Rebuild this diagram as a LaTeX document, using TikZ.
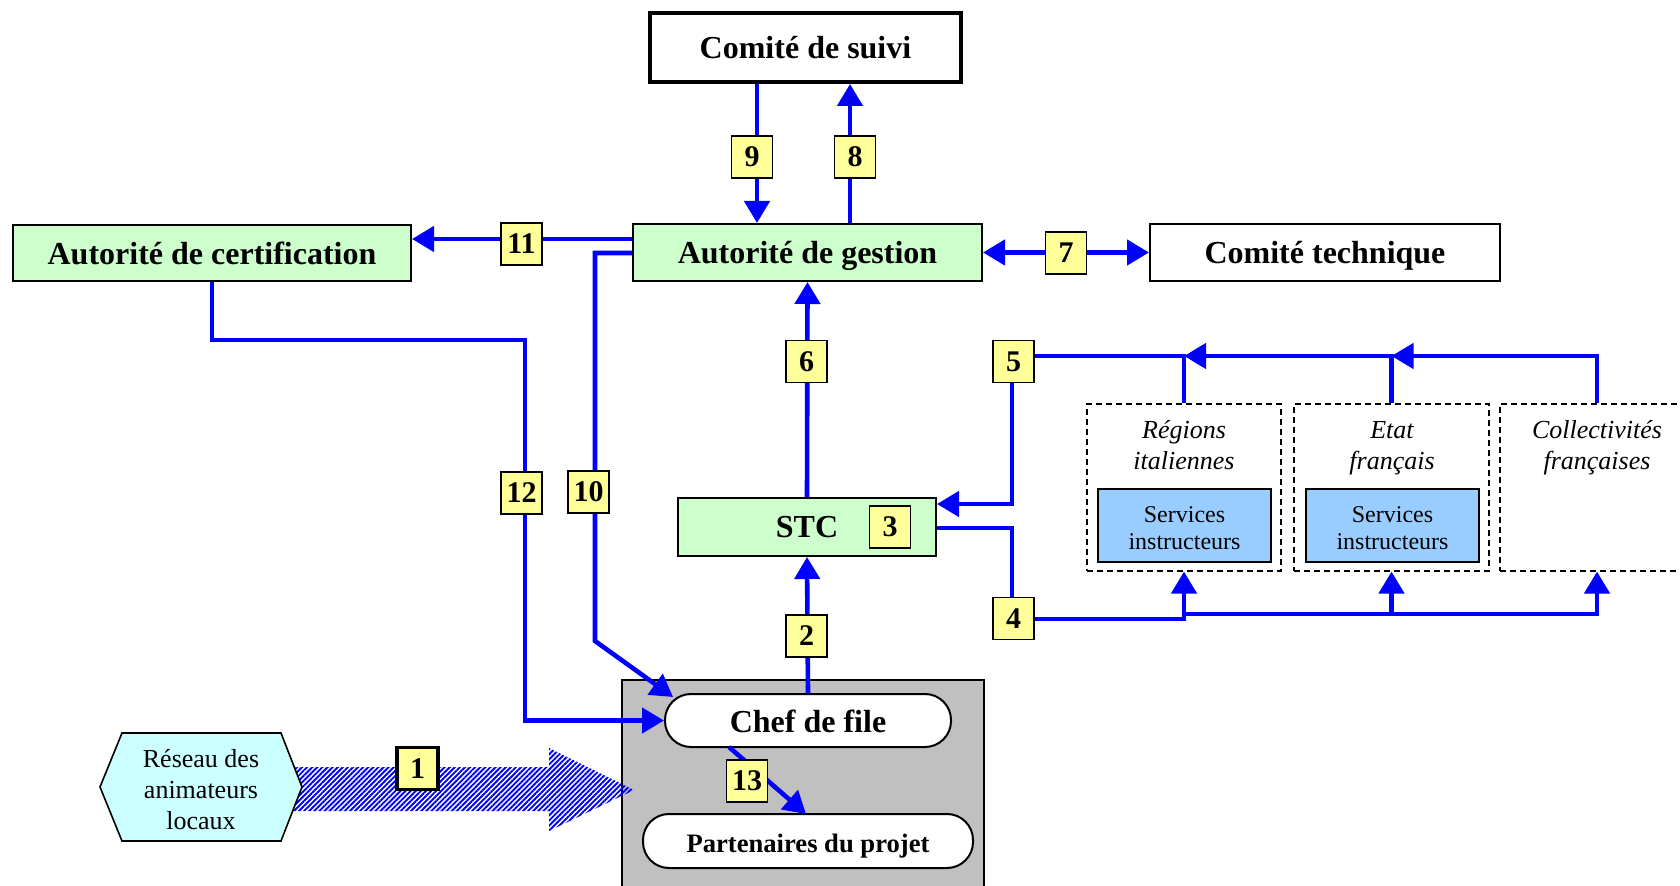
\documentclass[tikz,border=0pt]{standalone}
\usepackage{fontspec}
\setmainfont{Liberation Serif}
\usetikzlibrary{arrows.meta,patterns.meta,calc}
\definecolor{lgreen}{HTML}{CCFFCC}
\definecolor{lblue}{HTML}{99CCFF}
\definecolor{lcyan}{HTML}{CCFFFF}
\definecolor{lyellow}{HTML}{FFFF99}
\definecolor{greyfill}{HTML}{C0C0C0}
\definecolor{linkblue}{HTML}{0000FF}
\begin{document}
\begin{tikzpicture}[x=0.5pt,y=-0.5pt,
  conn/.style={draw=linkblue,line width=2.3pt},
  arr/.style={conn,-{Triangle[length=11pt,width=12.5pt]}},
  darr/.style={conn,{Triangle[length=11pt,width=12.5pt]}-{Triangle[length=11pt,width=12.5pt]}},
  mainbox/.style={draw,line width=1pt,inner sep=0pt,text depth=0pt,font=\bfseries\fontsize{16}{18}\selectfont},
  numbox/.style={draw,line width=0.8pt,fill=lyellow,minimum width=20.5pt,minimum height=21pt,inner sep=0pt,font=\bfseries\fontsize{15}{15}\selectfont},
  dbox/.style={draw,dash pattern=on 3pt off 2pt,line width=0.6pt,inner sep=0pt},
  itlabel/.style={align=center,text depth=0pt,font=\itshape\fontsize{13}{15.5}\selectfont},
  svbox/.style={draw,fill=lblue,line width=1pt,minimum width=86.5pt,minimum height=36.5pt,inner sep=0pt},
  svtext/.style={align=center,inner sep=0pt,font=\fontsize{12}{13.5}\selectfont},
  pill/.style={draw,fill=white,rounded corners=13pt,line width=1pt,inner sep=0pt,text depth=0pt},
]
\useasboundingbox (0,0) rectangle (1680,886);
\clip (0,0) rectangle (1680,886);
\fill[white] (0,0) rectangle (1680,886);

% grey zone
\node[draw,fill=greyfill,line width=0.8pt,minimum width=181pt,minimum height=105pt,inner sep=0pt] (zone) at (803,785) {};

% main boxes
\node[mainbox,line width=2pt,fill=white,minimum width=155.5pt,minimum height=34.5pt] (cs) at (805.5,47.5) {Comité de suivi};
\node[mainbox,fill=lgreen,minimum width=174.5pt,minimum height=28.5pt] (ag) at (807.5,252.5) {Autorité de gestion};
\node[mainbox,fill=lgreen,minimum width=199pt,minimum height=28pt] (ac) at (212,253) {Autorité de certification};
\node[mainbox,fill=white,minimum width=175pt,minimum height=28.5pt] (ct) at (1325,252.5) {Comité technique};
\node[mainbox,fill=lgreen,minimum width=129pt,minimum height=29pt] (stc) at (807,527) {STC};
\node[pill,minimum width=143pt,minimum height=26.5pt,font=\bfseries\fontsize{16}{18}\selectfont] (chef) at (808,720.5) {\raisebox{-1pt}{Chef de file}};
\node[pill,minimum width=165pt,minimum height=27pt,font=\bfseries\fontsize{13.3}{15}\selectfont] (part) at (808,841) {\raisebox{-2pt}{Partenaires du projet}};

% hatched arrow 1
\fill[pattern={Lines[angle=45,distance=1.8pt,line width=0.95pt]},pattern color=linkblue]
  (285,767) -- (549,767) -- (549,748) -- (634,790) -- (549,831) -- (549,811) -- (285,811) -- cycle;

% hexagon
\filldraw[fill=lcyan,line width=0.8pt] (100,787) -- (122,733) -- (281,733) -- (302,787) -- (281,841) -- (122,841) -- cycle;
\node[align=center,font=\fontsize{13}{15.5}\selectfont] (res) at (201,790) {Réseau des\\animateurs\\locaux};

% dashed groups
\node[dbox,minimum width=97pt,minimum height=83.5pt] (reg) at (1184,487.5) {};
\node[dbox,minimum width=97.5pt,minimum height=83.5pt] (etat) at (1391.5,487.5) {};
\node[dbox,minimum width=100pt,minimum height=83.5pt] (coll) at (1600,487.5) {};
\node[itlabel] (treg) at (1184,445) {Régions\\italiennes};
\node[itlabel] (tetat) at (1392,445) {Etat\\français};
\node[itlabel] (tcoll) at (1597,445) {Collectivités\\françaises};
\node[svbox] (sv1) at (1184.5,525.5) {};
\node[svbox] (sv2) at (1392.5,525.5) {};
\node[svtext] (sv1t) at (1184.5,528.5) {Services\\instructeurs};
\node[svtext] (sv2t) at (1392.5,528.5) {Services\\instructeurs};

% helper coordinates
\coordinate (x9) at (757,0);
\coordinate (x8) at (850,0);
\coordinate (y11) at (0,239);
\coordinate (y10) at (0,253);
\coordinate (k10) at (595,641);
\coordinate (t10) at (673,697);
\coordinate (k12) at (525,340);
\coordinate (s13) at (729,747);
\coordinate (t13) at (806,814);
\coordinate (xc) at (1597,0);
\coordinate (y5) at (0,356);
\coordinate (k5) at (1012,356);
\coordinate (y5b) at (0,504);
\coordinate (y4a) at (0,528);
\coordinate (k4) at (1012,619);
\coordinate (y4c) at (0,614);

% connectors
\draw[arr] (cs.south -| x9) -- (ag.north -| x9);
\draw[arr] (ag.north -| x8) -- (cs.south -| x8);
\draw[darr] (ag.east) -- (ct.west);
\draw[arr] (ag.west |- y11) -- (ac.east |- y11);
\draw[arr] (ag.west |- y10) -| (k10) -- (t10);
\draw[arr] (ac.south) |- (k12) |- (chef.west);
\draw[arr] (stc.north) -- (ag.south);
\draw[arr] (chef.north) -- (stc.south);
\draw[arr] (s13) -- (t13);
% 5
\draw[arr] (coll.north -| xc) |- (etat.north |- y5);
\draw[arr] (etat.north) |- (reg.north |- y5);
\draw[arr] (reg.north) |- (k5) |- (stc.east |- y5b);
% 4
\draw[arr] (stc.east |- y4a) -| (k4) -| (reg.south);
\draw[arr] (reg.south |- y4c) -| (etat.south);
\draw[arr] (etat.south |- y4c) -| (coll.south -| xc);

% number boxes
\node[numbox,line width=1.8pt] (n1) at (417.5,768.5) {1};
\node[numbox] (n2) at (806.5,636) {2};
\node[numbox] (n3) at (890,527) {3};
\node[numbox] (n4) at (1013.5,618.5) {4};
\node[numbox] (n5) at (1013.5,361.5) {5};
\node[numbox] (n6) at (806.5,361.5) {6};
\node[numbox] (n7) at (1066,253) {7};
\node[numbox] (n8) at (855,157) {8};
\node[numbox] (n9) at (752,157) {9};
\node[numbox] (n10) at (588.5,492) {10};
\node[numbox] (n11) at (521.5,244) {11};
\node[numbox] (n12) at (521.5,493) {12};
\node[numbox] (n13) at (747,781) {13};
\end{tikzpicture}
\end{document}
